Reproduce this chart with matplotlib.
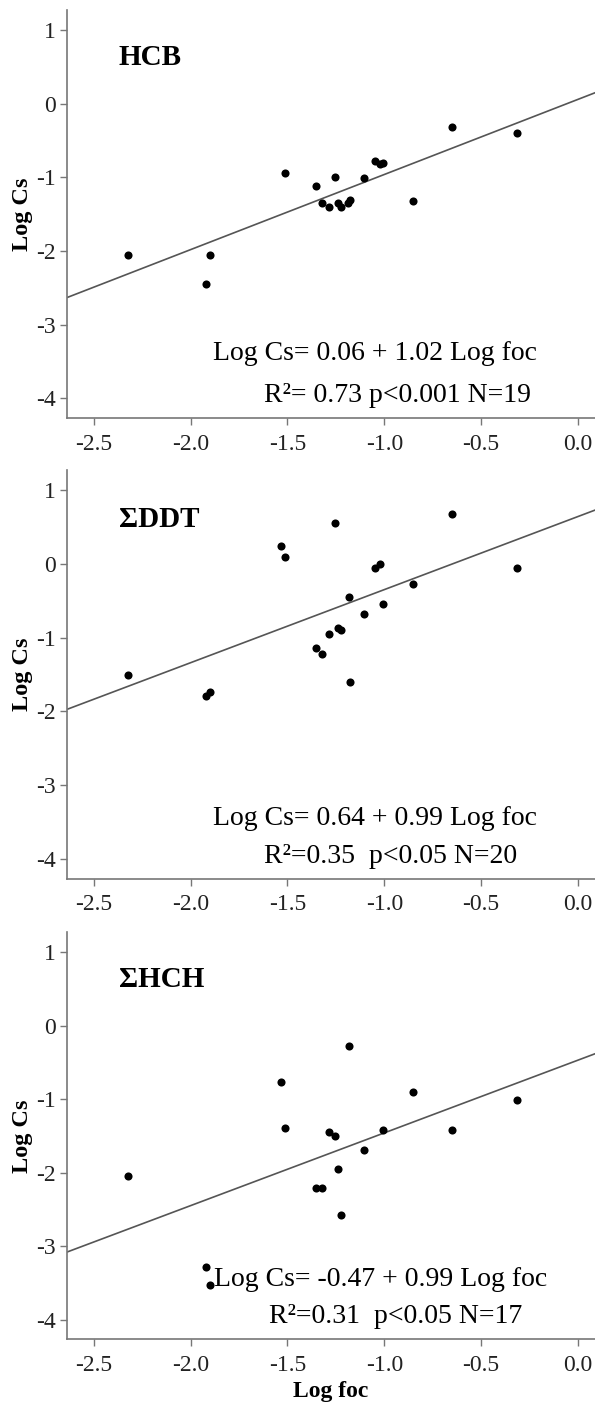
import numpy as np
import matplotlib
matplotlib.use("Agg")
import matplotlib.pyplot as plt
from matplotlib.ticker import FormatStrFormatter

plt.rcParams['font.family'] = ['Liberation Serif', 'DejaVu Serif']
plt.rcParams['axes.unicode_minus'] = False

# log foc values shared by the samples
foc_hcb = [-2.322, -1.900, -1.922, -1.514, -1.350, -1.322, -1.283, -1.256, -1.240, -1.225,
           -1.187, -1.179, -1.103, -1.048, -1.021, -1.005, -0.850, -0.649, -0.315]
cs_hcb = [-2.059, -2.050, -2.443, -0.937, -1.113, -1.353, -1.403, -0.991, -1.353, -1.403,
          -1.353, -1.303, -1.014, -0.774, -0.824, -0.810, -1.326, -0.321, -0.394]

foc_ddt = [-2.322, -1.922, -1.900, -1.534, -1.514, -1.256, -1.350, -1.322, -1.283, -1.240,
           -1.225, -1.183, -1.178, -1.103, -1.048, -1.021, -1.005, -0.850, -0.649, -0.315]
cs_ddt = [-1.500, -1.785, -1.731, 0.244, 0.090, 0.547, -1.147, -1.219, -0.957, -0.866,
          -0.902, -0.445, -1.604, -0.676, -0.060, -0.001, -0.549, -0.277, 0.678, -0.060]

foc_hch = [-2.322, -1.922, -1.900, -1.534, -1.514, -1.350, -1.322, -1.283, -1.256, -1.240,
           -1.225, -1.183, -1.103, -1.005, -0.850, -0.649, -0.315]
cs_hch = [-2.044, -3.286, -3.527, -0.761, -1.389, -2.212, -2.212, -1.452, -1.502, -1.953,
          -2.581, -0.283, -1.693, -1.420, -0.897, -1.420, -1.006]

names = ["HCB", "ΣDDT", "ΣHCH"]
intercepts = [0.06, 0.64, -0.47]
slopes = [1.02, 0.99, 0.99]
eq_lines = ["Log Cs= 0.06 + 1.02 Log foc",
            "Log Cs= 0.64 + 0.99 Log foc",
            "Log Cs= -0.47 + 0.99 Log foc"]
stat_lines = ["R²= 0.73 p<0.001 N=19",
              "R²=0.35  p<0.05 N=20",
              "R²=0.31  p<0.05 N=17"]

xs = [foc_hcb, foc_ddt, foc_hch]
ys = [cs_hcb, cs_ddt, cs_hch]

fig = plt.figure(figsize=(5.95, 14.06), dpi=100)
# [left, bottom, width, height] for the three panels
rects = [[0.1123, 0.7025, 0.8877, 0.2902],
         [0.1123, 0.3748, 0.8877, 0.2909],
         [0.1123, 0.0474, 0.8877, 0.2895]]
eq_pos = [(0.277, 0.143, 0.373, 0.040),
          (0.277, 0.132, 0.373, 0.039),
          (0.279, 0.131, 0.383, 0.040)]
title_y = [0.865, 0.861, 0.866]

xlim = (-2.639, 0.088)
for i in range(3):
    ax = fig.add_axes(rects[i])
    ax.scatter(xs[i], ys[i], s=34, color='black', zorder=3, linewidths=0)
    xx = np.array(xlim)
    ax.plot(xx, intercepts[i] + slopes[i] * xx, color='#555555', lw=1.2, zorder=2)
    ax.set_xlim(*xlim)
    ax.set_ylim(-4.27, 1.27)
    ax.set_xticks([-2.5, -2.0, -1.5, -1.0, -0.5, 0.0])
    ax.set_yticks([-4, -3, -2, -1, 0, 1])
    ax.xaxis.set_major_formatter(FormatStrFormatter('%.1f'))
    for s in ['top', 'right']:
        ax.spines[s].set_visible(False)
    for s in ['left', 'bottom']:
        ax.spines[s].set_color('#777777')
        ax.spines[s].set_linewidth(1.2)
    ax.tick_params(axis='both', colors='#777777', labelcolor='#222222',
                   labelsize=17, length=5, width=1.0)
    ax.tick_params(axis='x', pad=6)
    ax.tick_params(axis='y', pad=3)
    ax.set_ylabel("Log Cs", fontsize=17.5, fontweight='bold', labelpad=2)
    ax.text(0.098, title_y[i], names[i], transform=ax.transAxes,
            fontsize=21, fontweight='bold', va='baseline', ha='left')
    x1, y1, x2, y2 = eq_pos[i]
    ax.text(x1, y1, eq_lines[i], transform=ax.transAxes, fontsize=20,
            va='baseline', ha='left')
    ax.text(x2, y2, stat_lines[i], transform=ax.transAxes, fontsize=20,
            va='baseline', ha='left')
    if i == 2:
        ax.set_xlabel("Log foc", fontsize=17, fontweight='bold', labelpad=4)

fig.savefig("out.png", dpi=100)
